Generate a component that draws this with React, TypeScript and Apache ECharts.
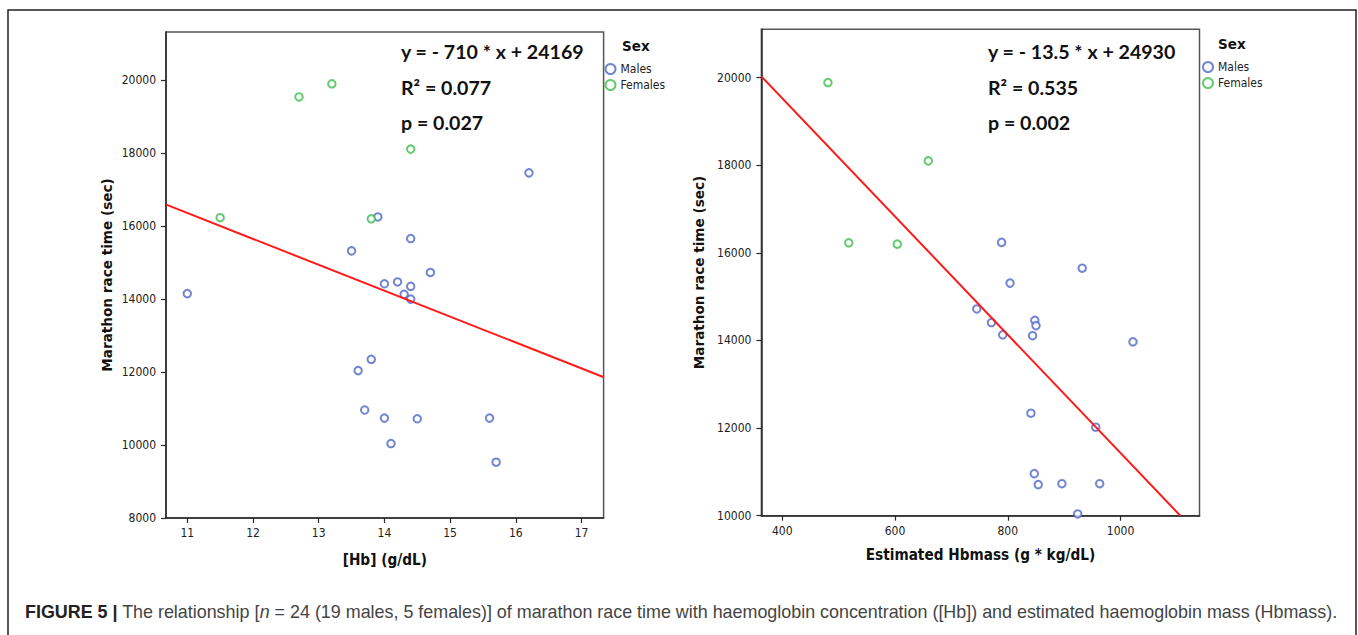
import React, { useEffect, useRef } from "react";
import * as echarts from "echarts";

// ---------- data ----------
const seriesNames = ["Males", "Females"];
const legendTitle = "Sex";

// left panel: [Hb] (g/dL) vs marathon time (s)
const leftMales: [number, number][] = [
  [16.2, 17460], [13.9, 16250], [14.4, 15660], [13.5, 15320], [14.7, 14730],
  [14.0, 14420], [14.2, 14470], [14.4, 14350], [14.3, 14130], [14.4, 14000],
  [11.0, 14150], [13.8, 12350], [13.6, 12040], [13.7, 10960], [14.0, 10740],
  [14.5, 10720], [15.6, 10740], [14.1, 10040], [15.7, 9530],
];
const leftFemales: [number, number][] = [
  [12.7, 19540], [13.2, 19900], [14.4, 18110], [11.5, 16230], [13.8, 16200],
];
const leftFit: [number, number][] = [[10.68, 16587], [17.34, 11858]];

// right panel: estimated Hbmass vs marathon time (s)
const rightMales: [number, number][] = [
  [789, 16240], [932, 15650], [804, 15310], [745, 14720], [771, 14410],
  [791, 14130], [848, 14460], [850, 14340], [844, 14110], [1022, 13970],
  [841, 12340], [956, 12020], [847, 10960], [854, 10710], [896, 10730],
  [963, 10730], [924, 10040],
];
const rightFemales: [number, number][] = [
  [481, 19890], [659, 18100], [518, 16230], [604, 16200],
];
const rightFit: [number, number][] = [[363, 20030], [1106, 10000]];

const leftXTicks = [11, 12, 13, 14, 15, 16, 17];
const leftYTicks = [8000, 10000, 12000, 14000, 16000, 18000, 20000];
const rightXTicks = [400, 600, 800, 1000];
const rightYTicks = [10000, 12000, 14000, 16000, 18000, 20000];

const leftStats = ["y = - 710 * x + 24169", "R² = 0.077", "p = 0.027"];
const rightStats = ["y = - 13.5 * x + 24930", "R² = 0.535", "p = 0.002"];

const xTitles = ["[Hb] (g/dL)", "Estimated Hbmass (g * kg/dL)"];
const yTitle = "Marathon race time (sec)";
const captionBold = "FIGURE 5 |";
const captionA = " The relationship [";
const captionItalic = "n";
const captionB =
  " = 24 (19 males, 5 females)] of marathon race time with haemoglobin concentration ([Hb]) and estimated haemoglobin mass (Hbmass).";

// ---------- styling ----------
const BLUE = "#4d66c6";
const GREEN = "#3dbd4c";
const RED = "#ff1a1a";
const AXIS = "#2a2a2a";
const NARROW = "'Liberation Sans Narrow', 'Arial Narrow', 'DejaVu Sans Condensed', sans-serif";
const STAT_FONT = "Lato, 'Open Sans', sans-serif";
const SANS = "'Liberation Sans', Arial, sans-serif";

function valueAxis(
  gridIndex: number,
  min: number,
  max: number,
  ticks: number[],
  name: string,
  nameGap: number,
  isY: boolean
) {
  return {
    type: "value",
    gridIndex,
    min,
    max,
    axisLine: { show: true, onZero: false, lineStyle: { color: AXIS, width: 1.5 } },
    axisTick: {
      show: true,
      length: 5,
      customValues: ticks,
      lineStyle: { color: AXIS, width: 1.2 },
    },
    axisLabel: {
      customValues: ticks,
      margin: isY ? 10 : 9,
      color: "#222",
      fontSize: 12,
      fontFamily: NARROW,
      formatter: (v: number) => String(v),
    },
    splitLine: { show: false },
    name,
    nameLocation: "middle",
    nameGap,
    nameTextStyle: isY
      ? { fontFamily: "'DejaVu Sans', Verdana, sans-serif", fontWeight: "bold", fontSize: 13.6, color: "#111" }
      : { fontFamily: NARROW, fontWeight: "bold", fontSize: 15.2, color: "#111" },
  };
}

function scatter(name: string, data: [number, number][], idx: number, color: string) {
  return {
    type: "scatter",
    name,
    xAxisIndex: idx,
    yAxisIndex: idx,
    data,
    symbol: "emptyCircle",
    symbolSize: 7.5,
    itemStyle: { color, borderColor: color, borderWidth: 1.3 },
    z: 2,
  };
}

function fitLine(data: [number, number][], idx: number) {
  return {
    type: "line",
    name: "fit" + idx,
    xAxisIndex: idx,
    yAxisIndex: idx,
    data,
    showSymbol: false,
    symbol: "none",
    clip: true,
    lineStyle: { color: RED, width: 2 },
    z: 3,
  };
}

function statTexts(lines: string[], x: number) {
  const ys = [51, 87, 122];
  return lines.map((t, i) => ({
    type: "text",
    x,
    y: ys[i],
    style: {
      text: t,
      fontFamily: STAT_FONT,
      fontWeight: "bold",
      fontSize: 19.6,
      fill: "#111",
      verticalAlign: "middle",
    },
  }));
}

function legendBlock(xCircle: number, yTop: number, xTitle: number) {
  return {
    legend: {
      orient: "vertical",
      left: xCircle - 5,
      top: yTop,
      itemWidth: 10,
      itemHeight: 10,
      itemGap: 4,
      padding: 0,
      selectedMode: false,
      data: seriesNames.map((n) => ({ name: n, icon: "emptyCircle" })),
      textStyle: { fontFamily: NARROW, fontSize: 12, color: "#222", padding: [0, 0, 0, 0] },
    },
    title: {
      type: "text",
      x: xTitle,
      y: yTop - 17,
      style: {
        text: legendTitle,
        fontFamily: "'DejaVu Sans', Verdana, sans-serif",
        fontWeight: "bold",
        fontSize: 13.5,
        fill: "#111",
        verticalAlign: "middle",
      },
    },
  };
}

export default function App() {
  const ref = useRef<HTMLDivElement>(null);

  useEffect(() => {
    document.body.style.margin = "0";
    if (!ref.current) return;
    const chart = echarts.init(ref.current, null, { renderer: "svg" });

    const lg1 = legendBlock(609.5, 63, 622);
    const lg2 = legendBlock(1207, 61, 1218);

    chart.setOption({
      animation: false,
      backgroundColor: "#ffffff",
      grid: [
        { left: 166, top: 32, width: 437.6, height: 486, show: true, borderColor: "#555", borderWidth: 1.5, backgroundColor: "transparent" },
        { left: 761.4, top: 29.3, width: 438.1, height: 486.4, show: true, borderColor: "#555", borderWidth: 1.5, backgroundColor: "transparent" },
      ],
      xAxis: [
        valueAxis(0, 10.676, 17.336, leftXTicks, xTitles[0], 34, false),
        valueAxis(1, 363, 1140, rightXTicks, xTitles[1], 32, false),
      ],
      yAxis: [
        valueAxis(0, 8000, 21320, leftYTicks, yTitle, 52, true),
        valueAxis(1, 10000, 21105, rightYTicks, yTitle, 55, true),
      ],
      legend: [lg1.legend, lg2.legend],
      series: [
        scatter(seriesNames[0], leftMales, 0, BLUE),
        scatter(seriesNames[1], leftFemales, 0, GREEN),
        fitLine(leftFit, 0),
        scatter(seriesNames[0], rightMales, 1, BLUE),
        scatter(seriesNames[1], rightFemales, 1, GREEN),
        fitLine(rightFit, 1),
      ],
      graphic: [
        {
          type: "rect",
          shape: { x: 8, y: 10, width: 1348, height: 700 },
          style: { fill: "none", stroke: "#222", lineWidth: 1.5 },
          silent: true,
        },
        ...statTexts(leftStats, 401),
        ...statTexts(rightStats, 988),
        lg1.title,
        lg2.title,
        {
          type: "text",
          x: 25,
          y: 612,
          style: {
            text: `{b|${captionBold}}{r|${captionA}}{i|${captionItalic}}{r|${captionB}}`,
            verticalAlign: "middle",
            fontFamily: SANS,
            fontSize: 17.9,
            fill: "#333",
            rich: {
              b: { fontFamily: SANS, fontWeight: "bold", fontSize: 17.9, fill: "#222" },
              r: { fontFamily: SANS, fontSize: 17.9, fill: "#444" },
              i: { fontFamily: SANS, fontStyle: "italic", fontSize: 17.9, fill: "#444" },
            },
          },
        },
      ],
    });

    return () => chart.dispose();
  }, []);

  return <div ref={ref} style={{ width: 1358, height: 635 }} />;
}
